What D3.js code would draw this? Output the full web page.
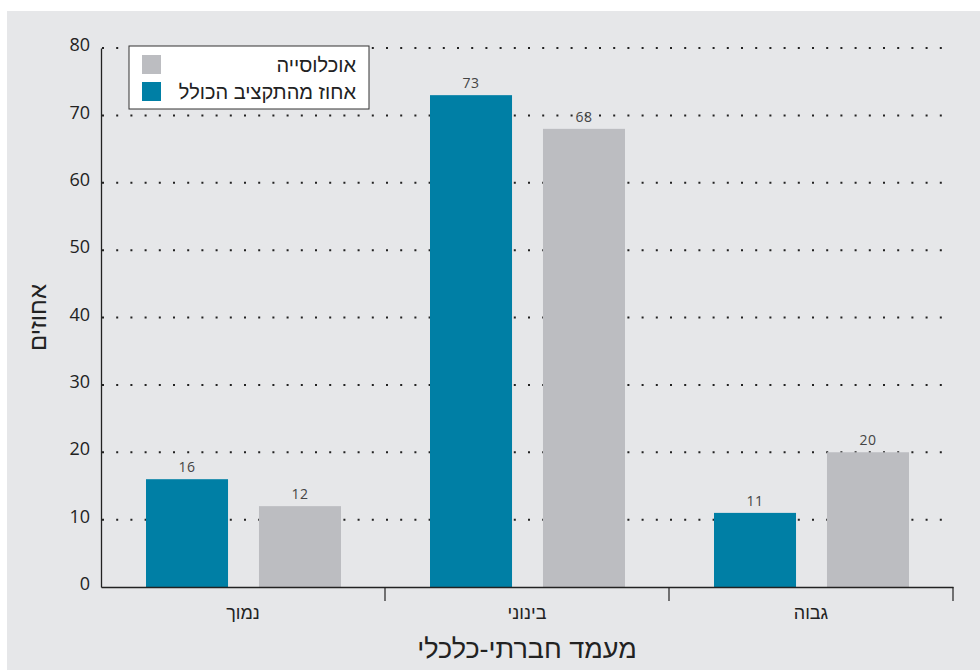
<!DOCTYPE html>
<html>
<head>
<meta charset="utf-8">
<script src="https://cdn.jsdelivr.net/npm/d3@7"></script>
<style>
  body { margin: 0; background: #fff; }
  svg { display: block; }
  .heb { font-family: "Liberation Sans Narrow", "Liberation Sans", "DejaVu Sans Condensed", sans-serif; }
  .num { font-family: "Open Sans", "DejaVu Sans", sans-serif; font-weight: 400; }
</style>
</head>
<body>
<svg></svg>
<script>
var width = 980;
var height = 670;

// data
var categories = ['נמוך', 'בינוני', 'גבוה'];
var seriesNames = ['אחוז מהתקציב הכולל', 'אוכלוסייה'];
var budget = [16, 73, 11];
var population = [12, 68, 20];
var yTicks = [0, 10, 20, 30, 40, 50, 60, 70, 80];
var colors = ['#007fa5', '#bcbdc1'];

var margin = { left: 101, right: 27, top: 48, bottom: 83 };

var svg = d3.select('svg')
    .attr('width', width)
    .attr('height', height);

svg.append('rect')
    .attr('x', 7).attr('y', 11)
    .attr('width', width - 7).attr('height', height - 11)
    .attr('fill', '#e6e7e9');

var x0 = d3.scaleBand()
    .domain(categories)
    .range([margin.left, width - margin.right])
    .paddingInner(0)
    .paddingOuter(0);

var x1 = d3.scaleBand()
    .domain([0, 1])
    .range([45, x0.bandwidth() - 44])
    .paddingInner(0.274);

var y = d3.scaleLinear()
    .domain([0, 80])
    .range([height - margin.bottom, margin.top]);

// dotted grid
svg.append('g')
    .selectAll('line')
    .data(yTicks.slice(1))
    .enter()
    .append('line')
    .attr('x1', margin.left + 1)
    .attr('x2', width - margin.right)
    .attr('y1', function (d) { return y(d); })
    .attr('y2', function (d) { return y(d); })
    .attr('stroke', '#222')
    .attr('stroke-width', 2)
    .attr('stroke-dasharray', '2,12.2');

// bars
var groups = svg.append('g')
    .selectAll('g')
    .data(categories)
    .enter()
    .append('g')
    .attr('transform', function (d) { return 'translate(' + x0(d) + ',0)'; });

var rows = function (i) { return [budget[i], population[i]]; };

groups.selectAll('rect')
    .data(function (d, i) { return rows(i); })
    .enter()
    .append('rect')
    .attr('x', function (d, j) { return x1(j); })
    .attr('y', function (d) { return y(d); })
    .attr('width', x1.bandwidth())
    .attr('height', function (d) { return y(0) - y(d); })
    .attr('fill', function (d, j) { return colors[j]; });

groups.selectAll('text')
    .data(function (d, i) { return rows(i); })
    .enter()
    .append('text')
    .attr('class', 'num')
    .attr('x', function (d, j) { return x1(j) + x1.bandwidth() / 2; })
    .attr('y', function (d) { return y(d) - 7; })
    .attr('text-anchor', 'middle')
    .style('font-size', '14px')
    .attr('letter-spacing', 0.5)
    .attr('fill', '#444')
    .text(function (d) { return d; });

// y axis
var yAxis = svg.append('g')
    .attr('transform', 'translate(' + margin.left + ',0)')
    .call(d3.axisLeft(y).tickValues(yTicks).tickSize(0).tickPadding(11));
yAxis.select('.domain').attr('stroke', '#222').attr('stroke-width', 1.3);
yAxis.selectAll('text')
    .attr('class', 'num')
    .style('font-size', '18px')
    .attr('dy', '0.15em')
    .attr('fill', '#222');

// x axis
var xAxis = svg.append('g')
    .attr('transform', 'translate(0,' + y(0) + ')')
    .call(d3.axisBottom(x0).tickSize(0).tickPadding(19));
xAxis.select('.domain').attr('stroke', '#222').attr('stroke-width', 1.3);
xAxis.selectAll('text')
    .attr('class', 'heb')
    .style('font-size', '18px')
    .attr('fill', '#222');

svg.append('g')
    .selectAll('line')
    .data(categories)
    .enter()
    .append('line')
    .attr('x1', function (d) { return x0(d) + x0.bandwidth(); })
    .attr('x2', function (d) { return x0(d) + x0.bandwidth(); })
    .attr('y1', y(0))
    .attr('y2', y(0) + 14)
    .attr('stroke', '#222')
    .attr('stroke-width', 1.2);

// axis titles
svg.append('text')
    .attr('class', 'heb')
    .attr('x', (margin.left + width - margin.right) / 2)
    .attr('y', 658)
    .attr('text-anchor', 'middle')
    .style('font-size', '27px')
    .attr('fill', '#222')
    .text('מעמד חברתי-כלכלי');

svg.append('text')
    .attr('class', 'heb')
    .attr('transform', 'translate(46,' + y(40) + ') rotate(-90)')
    .attr('text-anchor', 'middle')
    .style('font-size', '24px')
    .attr('fill', '#222')
    .text('אחוזים');

// legend
var legend = svg.append('g').attr('transform', 'translate(129,46)');
legend.append('rect')
    .attr('width', 240).attr('height', 63)
    .attr('fill', '#fff')
    .attr('stroke', '#333')
    .attr('stroke-width', 1);

var legendOrder = [1, 0];
legend.selectAll('g.item')
    .data(legendOrder)
    .enter()
    .append('g')
    .attr('class', 'item')
    .each(function (k, i) {
        var g = d3.select(this);
        g.append('rect')
            .attr('x', 13).attr('y', 9 + i * 27)
            .attr('width', 19).attr('height', 19)
            .attr('fill', colors[k]);
        g.append('text')
            .attr('class', 'heb')
            .attr('x', 227).attr('y', 26 + i * 27)
            .attr('text-anchor', 'end')
            .style('font-size', '20px')
            .attr('fill', '#222')
            .text(seriesNames[k]);
    });
</script>
</body>
</html>
